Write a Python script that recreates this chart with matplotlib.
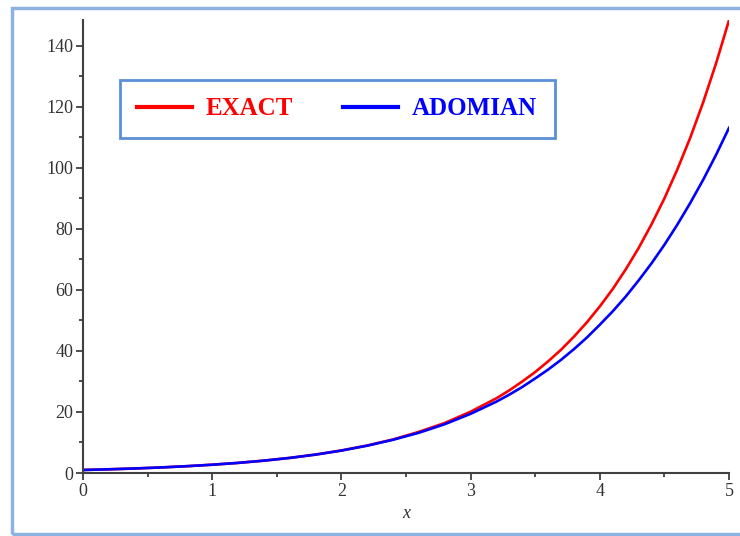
import matplotlib.pyplot as plt
from matplotlib.patches import Rectangle
from matplotlib.ticker import MultipleLocator

# values
x = [0.0, 0.2, 0.4, 0.6, 0.8, 1.0, 1.2, 1.4, 1.6, 1.8, 2.0, 2.2, 2.4,
     2.6, 2.8, 3.0, 3.2, 3.3, 3.4, 3.5, 3.6, 3.7, 3.8, 3.9, 4.0, 4.1,
     4.2, 4.3, 4.4, 4.5, 4.6, 4.7, 4.8, 4.9, 5.0]
exact = [1.0, 1.22, 1.49, 1.82, 2.23, 2.72, 3.32, 4.06, 4.95, 6.05, 7.39,
         9.03, 11.0, 13.5, 16.4, 20.1, 24.5, 27.1, 30.0, 33.1, 36.6, 40.4,
         44.7, 49.4, 54.6, 60.3, 66.7, 73.7, 81.5, 90.0, 99.5, 109.9,
         121.5, 134.3, 148.4]
adomian = [1.0, 1.22, 1.49, 1.82, 2.23, 2.72, 3.32, 4.05, 4.95, 6.03, 7.36,
           8.96, 10.9, 13.2, 16.0, 19.4, 23.4, 25.7, 28.2, 31.0, 33.9, 37.1,
           40.6, 44.4, 48.6, 53.0, 57.8, 63.1, 68.7, 74.8, 81.4, 88.5,
           96.1, 104.3, 113.1]
labels = ['EXACT', 'ADOMIAN']

fig = plt.figure(figsize=(7.4, 5.36), dpi=100)
ax = fig.add_axes([0.1122, 0.1175, 0.873, 0.845])

ax.plot(x, exact, color='#ff0000', lw=1.9, label=labels[0])
ax.plot(x, adomian, color='#0000ff', lw=1.9, label=labels[1])

ax.set_xlim(0, 5)
ax.set_ylim(0, 148.4)
ax.xaxis.set_major_locator(MultipleLocator(1))
ax.xaxis.set_minor_locator(MultipleLocator(0.5))
ax.yaxis.set_major_locator(MultipleLocator(20))
ax.yaxis.set_minor_locator(MultipleLocator(10))

for s in ['top', 'right']:
    ax.spines[s].set_visible(False)
for s in ['left', 'bottom']:
    ax.spines[s].set_color('#404040')
    ax.spines[s].set_linewidth(1.5)

ax.tick_params(which='major', length=5, width=1.3, color='#404040',
               labelsize=13, labelcolor='#333333', pad=2)
ax.tick_params(which='minor', length=3, width=1.3, color='#404040')
for t in ax.get_xticklabels() + ax.get_yticklabels():
    t.set_family('Liberation Serif')

ax.set_xlabel('x', family='Liberation Serif', style='italic', fontsize=13,
              color='#333333', labelpad=4)

leg = ax.legend(loc='upper left', bbox_to_anchor=(0.057, 0.868), ncol=2,
                prop={'family': 'Liberation Serif', 'weight': 'bold', 'size': 18},
                labelcolor='linecolor', handlelength=2.2, handletextpad=0.55,
                columnspacing=2.0, borderpad=0.7, borderaxespad=0,
                fancybox=False, framealpha=1, edgecolor='#5b8fd6')
leg.get_frame().set_linewidth(2)
for h in leg.get_lines():
    h.set_linewidth(3)

# outer border of the screenshot
fig.add_artist(Rectangle((12 / 740, 2 / 536), 1.0, 1 - 10 / 536,
                         transform=fig.transFigure, fill=False,
                         edgecolor='#8db3e2', lw=2.5))

fig.savefig('out.png', dpi=100)
